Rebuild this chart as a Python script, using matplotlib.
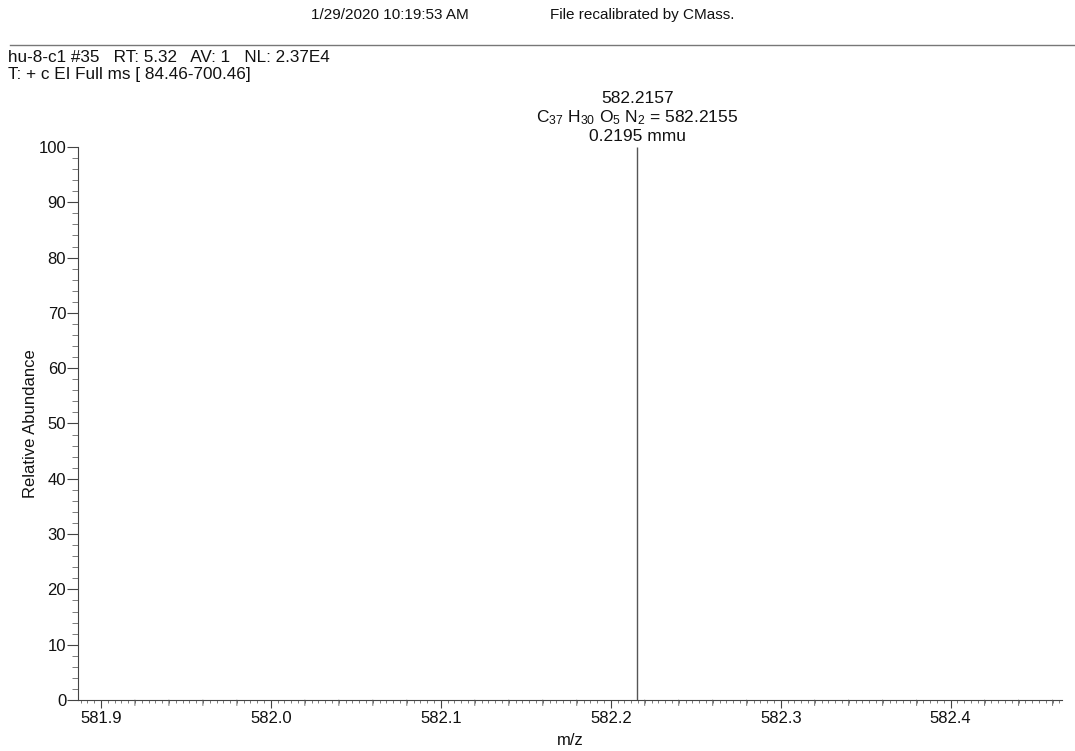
import matplotlib
matplotlib.use("Agg")
import matplotlib.pyplot as plt
from matplotlib.lines import Line2D
from matplotlib.ticker import MultipleLocator, FixedLocator, FixedFormatter
import numpy as np

plt.rcParams['font.family'] = ['Liberation Sans', 'DejaVu Sans']
plt.rcParams['mathtext.fontset'] = 'custom'
plt.rcParams['mathtext.rm'] = 'Liberation Sans'
plt.rcParams['mathtext.default'] = 'regular'

# Spectrum data
peak_mz = [582.2157]
peak_rel = [100.0]
peak_labels = ["582.2157", "C$_{37}$ H$_{30}$ O$_{5}$ N$_{2}$ = 582.2155", "0.2195 mmu"]

x_range = (581.8865, 582.4655)
x_major = [581.9, 582.0, 582.1, 582.2, 582.3, 582.4]
y_major = [0, 10, 20, 30, 40, 50, 60, 70, 80, 90, 100]

header_time = "1/29/2020 10:19:53 AM"
header_note = "File recalibrated by CMass."
scan_line1 = "hu-8-c1 #35   RT: 5.32   AV: 1   NL: 2.37E4"
scan_line2 = "T: + c EI Full ms [ 84.46-700.46]"

W, H = 1075, 751
fig = plt.figure(figsize=(W / 100, H / 100), dpi=100)
ax = fig.add_axes([78 / W, 1 - 700 / H, (1062 - 78) / W, (700 - 147) / H])

ink = "#111111"
axis_c = "#444444"
ax.vlines(peak_mz, 0, peak_rel, color="#555555", lw=1.0)

ax.set_xlim(*x_range)
ax.set_ylim(0, 100)

for s in ("top", "right"):
    ax.spines[s].set_visible(False)
for s in ("left", "bottom"):
    ax.spines[s].set_color(axis_c)
    ax.spines[s].set_linewidth(0.8)

ax.xaxis.set_major_locator(FixedLocator(x_major))
ax.xaxis.set_major_formatter(FixedFormatter([f"{v:.1f}" for v in x_major]))
ax.xaxis.set_minor_locator(MultipleLocator(0.004))
ax.yaxis.set_major_locator(FixedLocator(y_major))
ax.yaxis.set_minor_locator(MultipleLocator(2))

ax.tick_params(axis="x", which="major", length=6, width=0.8, color=axis_c,
               labelsize=12, labelcolor=ink, pad=2)
ax.tick_params(axis="x", which="minor", length=2.5, width=0.6, color="#666666")
ax.tick_params(axis="y", which="major", length=8, width=0.8, color=axis_c,
               labelsize=12, labelcolor=ink, pad=0.5)
ax.tick_params(axis="y", which="minor", length=4.5, width=0.6, color="#666666")

# medium ticks every 0.02 on the m/z axis
mid_ticks = [v for v in np.round(np.arange(581.90, 582.46, 0.02), 3)
             if min(abs(v - m) for m in x_major) > 1e-6]
for v in mid_ticks:
    ax.annotate("", xy=(v, 0), xycoords=("data", "axes fraction"),
                xytext=(0, -4), textcoords="offset points",
                arrowprops=dict(arrowstyle="-", color="#555555", lw=0.6,
                                shrinkA=0, shrinkB=0))

ax.set_xlabel("m/z", fontsize=12, color=ink, labelpad=5)
ax.set_ylabel("Relative Abundance", fontsize=12, color=ink, labelpad=0)
ax.yaxis.set_label_coords(-40 / (1062 - 78), 0.5)

# peak annotation (baseline offsets above the 100% level)
offsets = [31.5, 18, 4.3]
for txt, dy in zip(peak_labels, offsets):
    ax.annotate(txt, xy=(peak_mz[0], 100), xytext=(0, dy),
                textcoords="offset points", ha="center", va="baseline",
                fontsize=12.5, color=ink, annotation_clip=False)

# page header
fig.text(390 / W, 1 - 15 / H, header_time, ha="center", va="center",
         fontsize=11, color=ink)
fig.text(550 / W, 1 - 15 / H, header_note, ha="left", va="center",
         fontsize=11, color=ink)
fig.add_artist(Line2D([10 / W, 1.0], [1 - 45 / H, 1 - 45 / H],
                      transform=fig.transFigure, color="#777777", lw=1.0))
fig.text(8 / W, 1 - 57 / H, scan_line1, ha="left", va="center",
         fontsize=12.3, color=ink)
fig.text(8 / W, 1 - 74 / H, scan_line2, ha="left", va="center",
         fontsize=12.3, color=ink)

fig.savefig("out.png", dpi=100, facecolor="white")
